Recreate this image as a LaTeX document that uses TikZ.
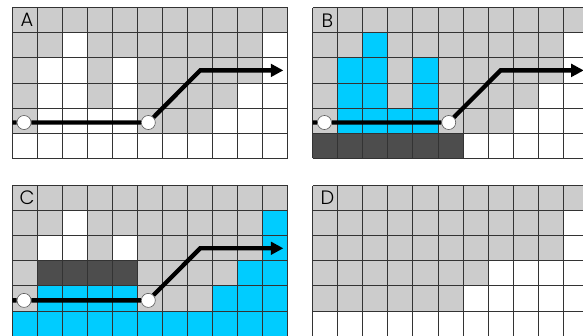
\documentclass[tikz,border=0pt]{standalone}
\usepackage{fontspec}
\usepackage{tikz}
\usetikzlibrary{arrows.meta}
\newfontfamily\panelfont{Poppins Light}
\definecolor{Rock}{HTML}{CCCCCC}
\definecolor{Water}{HTML}{00CCFF}
\definecolor{Tar}{HTML}{4D4D4D}
\definecolor{GridLine}{HTML}{333333}

% fill a list of cells col/row, rows counted from the top
\newcommand{\cells}[2]{\foreach \c/\r in {#2} {\fill [#1] (\c-1,-\r) rectangle (\c,1-\r);}}
% grid lines and panel letter
\newcommand{\panelgrid}[1]{%
\draw [cell lines] (0,-6) grid (11,0);
\node (#1-label) at (0.59,-0.5) [inner sep=0pt] {\panelfont\fontsize{22}{22}\selectfont #1};}
% route with the two holes
\newcommand{\route}[1]{%
\coordinate (#1-start) at (0,-4.58);
\node [hole] (#1-in) at (0.47,-4.58) {};
\node [hole] (#1-out) at (5.43,-4.58) {};
\coordinate (#1-bend) at (7.5,-2.5);
\coordinate (#1-tip) at (10.82,-2.5);
\draw [flow] (#1-start) -- (#1-in) -- (#1-out) -- (#1-bend) -- (#1-tip);}

\begin{document}
\begin{tikzpicture}[x=1cm,y=1cm,
  hole/.style={circle,draw=GridLine!80,fill=white,line width=0.7pt,minimum size=0.56cm,inner sep=0pt},
  flow/.style={line width=4.9pt,-{Triangle[length=0.5cm,width=0.5cm]}},
  cell lines/.style={GridLine,line width=0.9pt}]
\clip (0,0) rectangle (23.27,13.41);
% Panel A
\begin{scope}[shift={(0.49,13.10)}]
\fill [Rock] (0,-6) rectangle (11,0);
\cells{white}{3/2,11/2,2/3,3/3,5/3,11/3,2/4,3/4,5/4,10/4,11/4,2/5,3/5,4/5,5/5,9/5,10/5,11/5}
\fill [white] (0,-6) rectangle (11,-5);
\panelgrid{A}
\route{a}
\end{scope}
% Panel B
\begin{scope}[shift={(12.48,13.10)}]
\fill [Rock] (0,-6) rectangle (11,0);
\cells{white}{11/2,11/3,10/4,11/4,9/5,10/5,11/5,7/6,8/6,9/6,10/6,11/6}
\cells{Water}{3/2,2/3,3/3,5/3,2/4,3/4,5/4,2/5,3/5,4/5,5/5}
\fill [Tar] (0,-6) rectangle (6,-5);
\panelgrid{B}
\route{b}
\end{scope}
% Panel C
\begin{scope}[shift={(0.49,6.0)}]
\fill [Rock] (0,-6) rectangle (11,0);
\cells{white}{3/2,2/3,3/3,5/3}
\cells{Water}{11/2,11/3,10/4,11/4,2/5,3/5,4/5,5/5,9/5,10/5,11/5}
\fill [Water] (0,-6) rectangle (11,-5);
\cells{Tar}{2/4,3/4,4/4,5/4}
\panelgrid{C}
\route{c}
\end{scope}
% Panel D
\begin{scope}[shift={(12.48,6.0)}]
\fill [Rock] (0,-6) rectangle (11,0);
\cells{white}{11/2,11/3,8/4,9/4,10/4,11/4,7/5,8/5,9/5,10/5,11/5}
\fill [white] (0,-6) rectangle (11,-5);
\panelgrid{D}
\end{scope}
\end{tikzpicture}
\end{document}
